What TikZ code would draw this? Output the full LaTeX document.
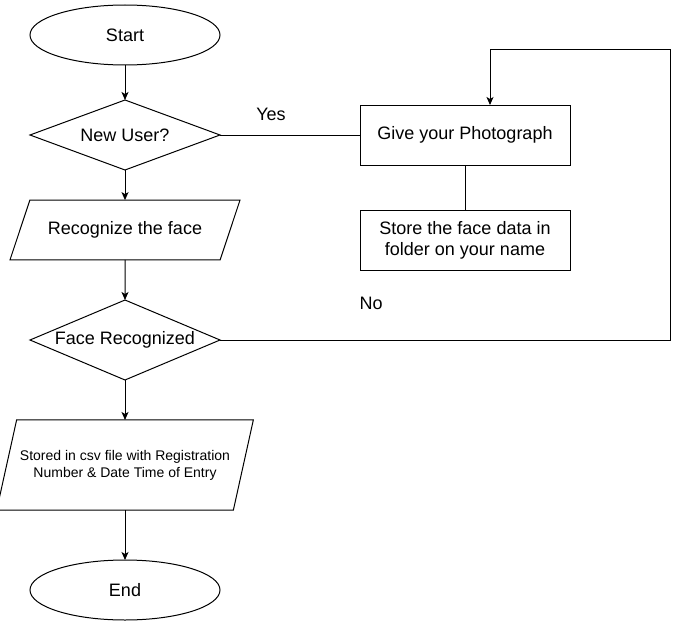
\documentclass[tikz,border=0pt]{standalone}
\usepackage{fontspec}
\setmainfont{Liberation Sans}
\usetikzlibrary{arrows.meta,shapes.geometric,positioning}

\begin{document}
\begin{tikzpicture}[x=1pt, y=1pt, line width=1pt, >={Stealth[length=8pt,width=7pt,inset=2pt]},
  font=\fontsize{18}{21}\selectfont,
  term/.style = {draw, ellipse, outer sep=0pt, minimum width=190pt, minimum height=60pt},
  decision/.style = {draw, diamond, outer sep=0pt, inner sep=0pt, shape aspect=2.7, minimum width=190pt, minimum height=70pt},
  io/.style = {draw, trapezium, trapezium stretches body=true, outer sep=0pt, align=center},
  process/.style = {draw, rectangle, outer sep=0pt, align=center, minimum width=210pt, minimum height=60pt}]
\useasboundingbox (0,0) rectangle (680,-626);

\node[term] (start) at (125,-35) {Start};
\node[decision] (newUser) [below=35pt of start] {New User?};
\node[io, trapezium left angle=71.6, trapezium right angle=108.4, inner ysep=21.5pt, minimum width=230pt] (recognize) [below=60pt of newUser.south, anchor=center] {Recognize the face};
\node[decision, shape aspect=2.4, minimum height=80pt] (faceRec) [below=70pt of recognize.center] {Face Recognized};
\node[io, trapezium left angle=77.5, trapezium right angle=102.5, inner ysep=30pt, minimum width=250pt,
  font=\fontsize{14}{17}\selectfont] (stored) [below=85pt of faceRec.south, anchor=center] {Stored in csv file with Registration\\Number \& Date Time of Entry};
\node[term] (finish) [below=95pt of stored.center] {End};

\node[process] (photo) [right=140pt of newUser] {Give your Photograph};
\node[process] (storeFace) [below=45pt of photo] {Store the face data in\\folder on your name};

\coordinate (noTurn) at (670,-50);

\draw[->] (start) -- (newUser);
\draw[->] (newUser) -- (recognize);
\draw[->] (recognize) -- (faceRec);
\draw[->] (faceRec) -- (stored);
\draw[->] (stored) -- (finish);
\draw (newUser) -- node[pos=0.364, above=10pt] {Yes} (photo);
\draw (photo) -- (storeFace);
\draw[->] (faceRec.east) -| node[pos=0.168, above=26pt] {No} (noTurn) -| ([xshift=25pt]photo.north);
\end{tikzpicture}
\end{document}
